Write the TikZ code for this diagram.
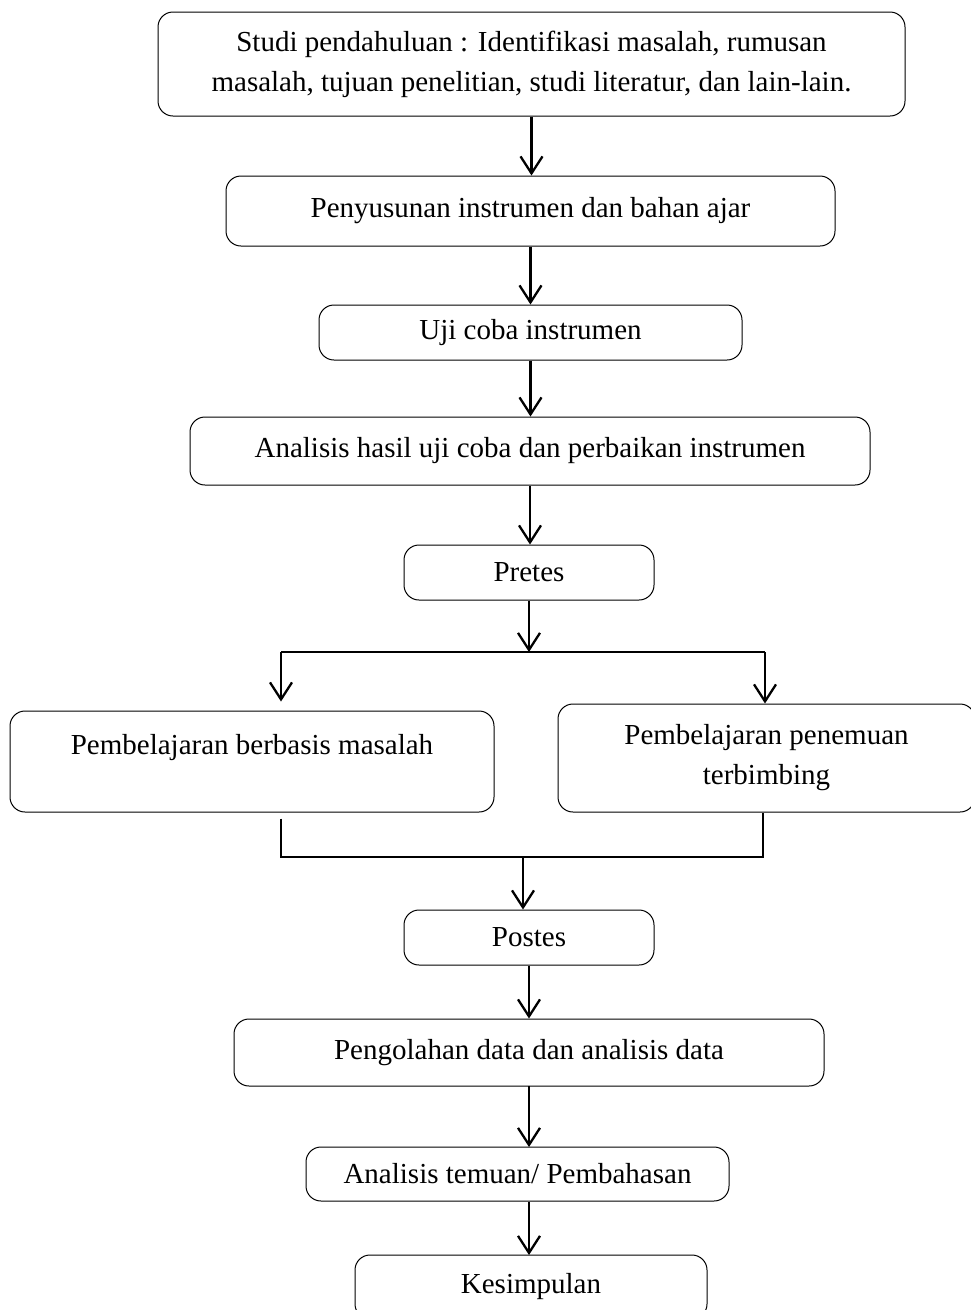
\documentclass[tikz,border=0pt]{standalone}
\usepackage{fontspec}
\setmainfont{Liberation Serif}
\usetikzlibrary{arrows.meta}
\begin{document}
\begin{tikzpicture}[x=1pt,y=-1pt,
  box/.style={draw, line width=1pt, rounded corners=15pt, inner sep=0pt, font=\fontsize{29}{40}\selectfont, align=center},
  txt/.style={inner sep=0pt, font=\fontsize{29}{40}\selectfont, align=center},
  conn/.style={line width=2.3pt},
  arr/.style={line width=2.3pt, -{Straight Barb[length=17pt,width=22pt,line width=2.3pt]}}
]
\useasboundingbox (0,0) rectangle (970,1310);
\node[box, minimum width=747pt, minimum height=104pt] (studi) at (531.5,64) {Studi pendahuluan : Identifikasi masalah, rumusan\\masalah, tujuan penelitian, studi literatur, dan lain-lain.};
\node[box, minimum width=609pt, minimum height=70pt] (susun) at (530.5,211) {Penyusunan instrumen dan bahan ajar};
\node[box, minimum width=423pt, minimum height=55pt] (uji) at (530.5,332.5) {Uji coba instrumen};
\node[box, minimum width=680pt, minimum height=68pt] (anal) at (530,451) {Analisis hasil uji coba dan perbaikan instrumen};
\node[box, minimum width=250pt, minimum height=55pt] (pre) at (529,572.5) {Pretes};
\node[box, minimum width=484pt, minimum height=101pt] (pbm) at (252,761.5) {};
\node[txt] (pbmt) at (252,748) {Pembelajaran berbasis masalah};
\node[box, minimum width=417pt, minimum height=108pt] (ppt) at (766.5,758) {Pembelajaran penemuan\\terbimbing};
\node[box, minimum width=250pt, minimum height=55pt] (post) at (529,937.5) {Postes};
\node[box, minimum width=590pt, minimum height=67pt] (olah) at (529,1052.5) {Pengolahan data dan analisis data};
\node[box, minimum width=423pt, minimum height=54pt] (temu) at (517.5,1174) {Analisis temuan/ Pembahasan};
\node[box, minimum width=352pt, minimum height=64pt] (kes) at (531,1287) {Kesimpulan};

\draw[arr] (studi.south) -- (studi.south |- susun.north);
\draw[arr] (susun.south) -- (susun.south |- uji.north);
\draw[arr] (uji.south) -- (uji.south |- anal.north);
\draw[arr] (anal.south) -- (anal.south |- pre.north);

\coordinate (sp) at (529,652);
\coordinate (sl) at (281,652);
\coordinate (sr) at (765,652);
\draw[arr] (pre.south) -- (sp);
\draw[conn] (sl) -- (sr);
\draw[arr, shorten >=9pt] (sl) -- (sl |- pbm.north);
\draw[arr] (sr) -- (sr |- ppt.north);

\coordinate (ml) at (281,857);
\coordinate (mr) at (763,857);
\coordinate (mm) at (523,857);
\draw[conn, shorten <=6pt] (pbm.south -| ml) -- (ml) -- (mr) -- (ppt.south -| mr);
\draw[arr] (mm) -- (mm |- post.north);

\draw[arr] (post.south) -- (post.south |- olah.north);
\draw[arr] (529,1086) -- (529,1147);
\draw[arr] (temu.south -| 529,0) -- (529,1255);
\end{tikzpicture}
\end{document}
